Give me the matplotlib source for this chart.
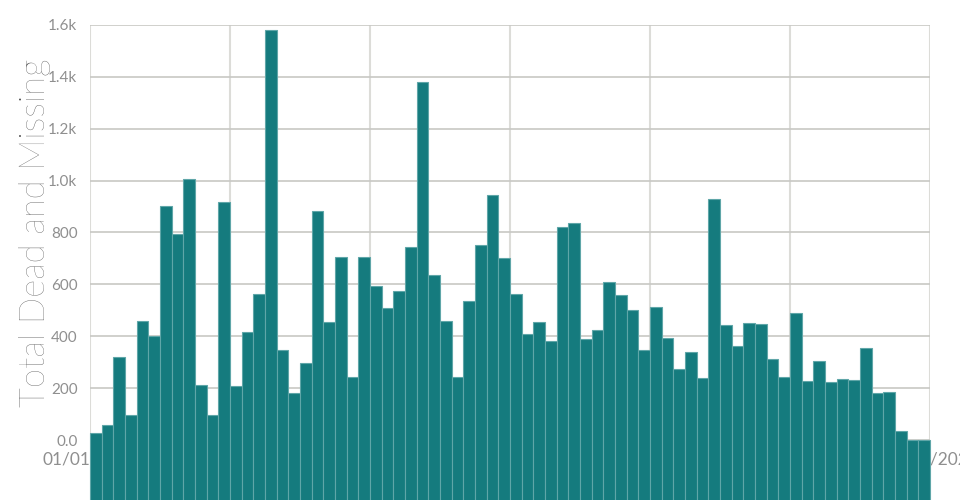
import numpy as np
import matplotlib
matplotlib.use('Agg')
import matplotlib.pyplot as plt
from matplotlib.ticker import FuncFormatter

plt.rcParams['font.family'] = ['Lato', 'DejaVu Sans']

# monthly totals, 01/2014 .. 12/2019
dead_missing = [
    27, 58, 320, 98, 459, 402, 902, 794, 1005, 211, 96, 919,
    209, 418, 563, 1581, 346, 181, 297, 883, 454, 704, 242, 704,
    595, 508, 574, 745, 1380, 637, 459, 244, 535, 750, 946, 700,
    562, 407, 454, 382, 820, 835, 388, 423, 608, 558, 501, 346,
    512, 392, 274, 339, 239, 928, 443, 361, 451, 448, 312, 242,
    488, 227, 303, 224, 234, 230, 356, 180, 185, 36, 1, 1,
]
year_labels = ['01/01/2014', '01/01/2015', '01/01/2016', '01/01/2017',
               '01/01/2018', '01/01/2019', '01/01/2020']

values = np.array(dead_missing)
months = np.arange(len(values))

fig = plt.figure(figsize=(9.6, 5), dpi=100)
ax = fig.add_axes([0.09375, 0.12, 0.875, 0.83])

# bars run down past the zero line to the figure edge, over the tick labels
base = -400
ax.bar(months + 0.5, values - base, bottom=base, width=1.0,
       color='#157b7e', edgecolor='#5fa6a8', linewidth=0.8,
       clip_on=False, zorder=2)

ax.set_xlim(0, len(values))
ax.set_ylim(0, 1600)
ax.set_axisbelow(True)

ax.set_xticks(np.arange(0, len(values) + 1, 12))
ax.set_xticklabels(year_labels)
ax.set_yticks(np.arange(0, 1601, 200))
ax.yaxis.set_major_formatter(FuncFormatter(
    lambda v, p: '0.0' if v == 0 else (f'{v/1000:.1f}k' if v >= 1000 else f'{int(v)}')))

for s in ax.spines.values():
    s.set_visible(False)
ax.grid(True, axis='y', color='#c8c8c4', linewidth=1.2)
ax.grid(True, axis='x', color='#dcdcd8', linewidth=1.5)
ax.tick_params(axis='both', length=0, colors='#8f8f8f')
ax.tick_params(axis='y', labelsize=11, pad=9)
ax.tick_params(axis='x', labelsize=12.5, pad=8)

ax.set_ylabel('Total Dead and Missing', fontsize=25, color='#505050',
              fontweight='light', labelpad=-2)

fig.savefig('out.png', dpi=100)
